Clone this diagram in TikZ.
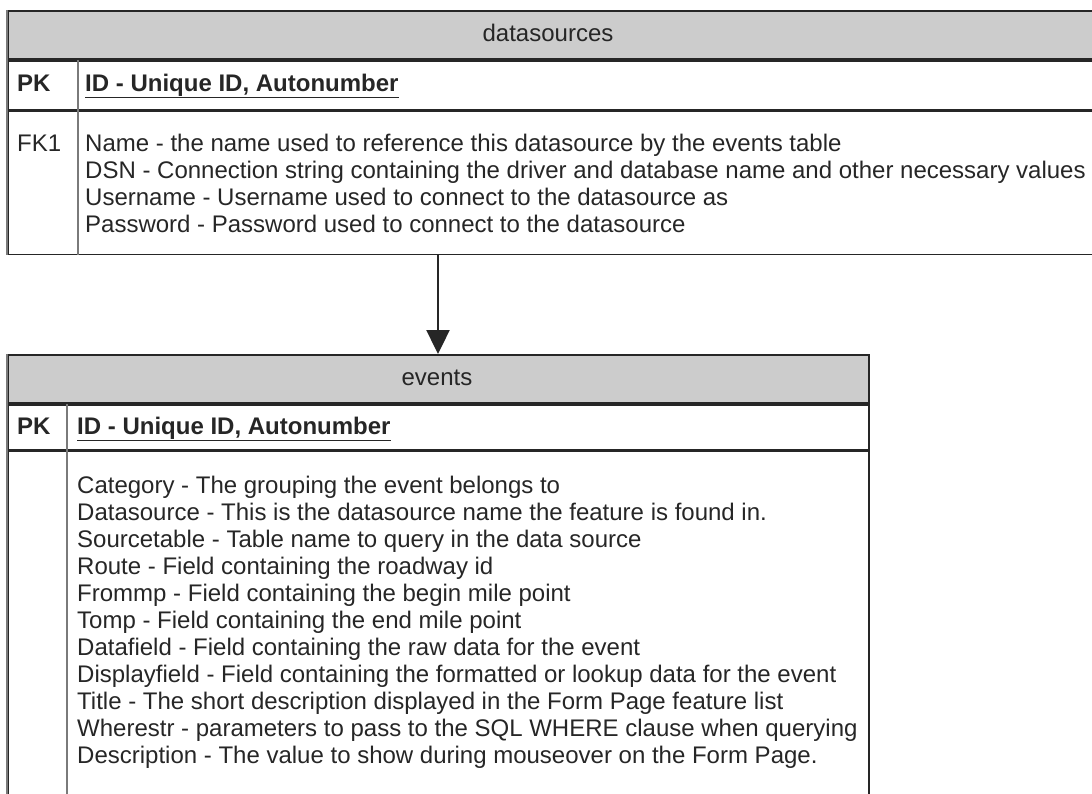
\documentclass[tikz,border=0pt]{standalone}
\usepackage{fontspec}
\setmainfont{Liberation Sans}
\usetikzlibrary{positioning,arrows.meta}
\definecolor{hdrfill}{HTML}{CCCCCC}
\definecolor{inkgray}{HTML}{262626}
\definecolor{edgegray}{HTML}{7A7A7A}
\tikzset{
  headbox/.style={draw=inkgray, fill=hdrfill, line width=1.8pt,
    anchor=north west, inner sep=0pt},
  rowbox/.style={draw=inkgray, line width=1.8pt, inner sep=0pt},
  divline/.style={draw=edgegray, line width=2.2pt},
  tbltext/.style={font=\fontsize{24}{27}\selectfont, text=inkgray,
    inner sep=0pt, anchor=base west},
  headtext/.style={tbltext, anchor=base},
  fkarrow/.style={-{Triangle[length=24pt,width=23pt]}, line width=2.4pt, inkgray},
}

\begin{document}
\begin{tikzpicture}[x=1pt, y=-1pt]
  \useasboundingbox (0,0) rectangle (1092,793);
  \clip (0,0) rectangle (1092,793);
  % datasources table
  \node[headbox, minimum width=1100pt, minimum height=48pt] at (7,10) (dsHead) {};
  \node[rowbox, minimum width=1100pt, minimum height=49pt, below=0pt of dsHead] (dsKey) {};
  \node[rowbox, minimum width=1100pt, minimum height=143pt, below=0pt of dsKey] (dsBody) {};
  \draw[divline] ([xshift=71pt]dsKey.north west) -- ([xshift=71pt]dsBody.south west);
  \draw[divline] (dsHead.north west) -- (dsBody.south west);
  \node[headtext] at (548,41) (dsTitle) {datasources};
  \node[tbltext] at (17,91) (dsPK) {\bfseries PK};
  \node[tbltext] at (85,91) (dsID) {\bfseries\underline{ID - Unique ID, Autonumber}};
  \node[tbltext] at (17,151) (dsFK) {FK1};
  \foreach \txt [count=\i] in {%
    Name - the name used to reference this datasource by the events table,
    DSN - Connection string containing the driver and database name and other necessary values,
    Username - Username used to connect to the datasource as,
    Password - Password used to connect to the datasource}
    \node[tbltext] at (85,{151+27*(\i-1)}) (dsField\i) {\txt};
  % events table
  \node[headbox, minimum width=861pt, minimum height=48pt] at (7,354) (evHead) {};
  \node[rowbox, minimum width=861pt, minimum height=45pt, below=0pt of evHead] (evKey) {};
  \node[rowbox, minimum width=861pt, minimum height=400pt, below=0pt of evKey] (evBody) {};
  \draw[divline] ([xshift=60pt]evKey.north west) -- ([xshift=60pt]evBody.south west);
  \draw[divline] (evHead.north west) -- (evBody.south west);
  \node[headtext] at (437,385) (evTitle) {events};
  \node[tbltext] at (17,434) (evPK) {\bfseries PK};
  \node[tbltext] at (77,434) (evID) {\bfseries\underline{ID - Unique ID, Autonumber}};
  \foreach \txt [count=\i] in {%
    Category - The grouping the event belongs to,
    Datasource - This is the datasource name the feature is found in.,
    Sourcetable - Table name to query in the data source,
    Route - Field containing the roadway id,
    Frommp - Field containing the begin mile point,
    Tomp - Field containing the end mile point,
    Datafield - Field containing the raw data for the event,
    Displayfield - Field containing the formatted or lookup data for the event,
    Title - The short description displayed in the Form Page feature list,
    Wherestr - parameters to pass to the SQL WHERE clause when querying,
    Description - The value to show during mouseover on the Form Page.}
    \node[tbltext] at (77,{493+27*(\i-1)}) (evField\i) {\txt};
  % link
  \coordinate (fkX) at (438,0);
  \draw[fkarrow] (fkX |- dsBody.south) -- (fkX |- evHead.north);
\end{tikzpicture}
\end{document}
